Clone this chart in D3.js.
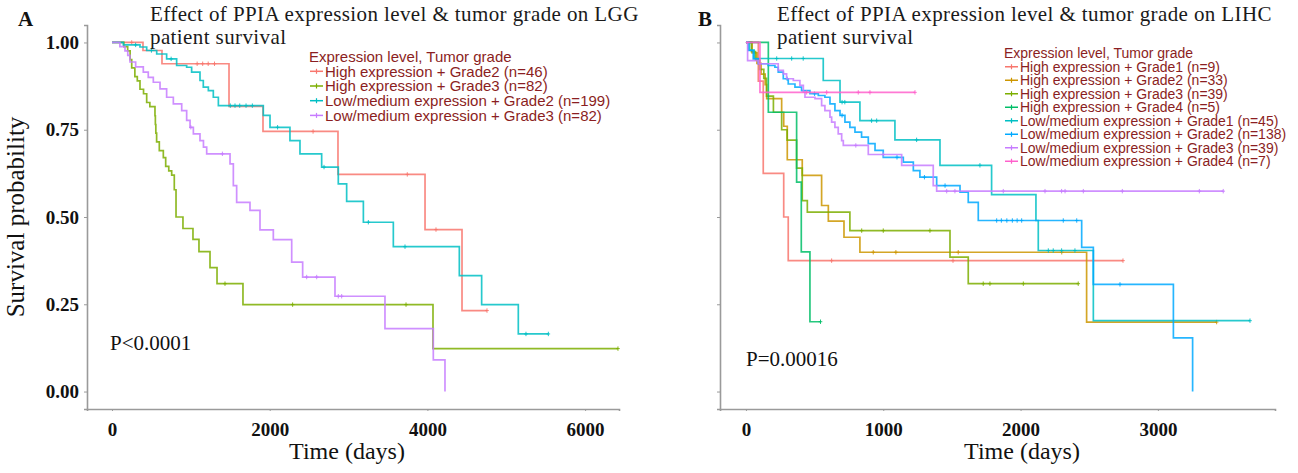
<!DOCTYPE html>
<html><head><meta charset="utf-8">
<script src="https://cdn.jsdelivr.net/npm/d3@7"></script>
<style>body{margin:0;background:#fff}</style>
</head><body><svg id="c" width="1298" height="473"></svg>
<script>
// ---------------- DATA ----------------
const yTicks = [0, 0.25, 0.5, 0.75, 1];
const lggXTicks = [0, 2000, 4000, 6000];
const lihcXTicks = [0, 1000, 2000, 3000];

// Panel A (LGG)
const lggGroups = ["High expression + Grade2 (n=46)", "High expression + Grade3 (n=82)",
  "Low/medium expression + Grade2 (n=199)", "Low/medium expression + Grade3 (n=82)"];
const lggColors = ["#F8766D", "#7CAE00", "#00BFC4", "#C77CFF"];
const lggHighG2 = [[0,1],[393,0.977],[634,0.939],[1484,0.817],[1915,0.745],[2866,0.622],[3970,0.464],[4439,0.232]];
const lggHighG3 = [[0,1],[150,0.988],[199,0.976],[230,0.951],[250,0.927],[290,0.902],[321,0.89],[355,0.866],[400,0.853],[440,0.828],[480,0.816],[545,0.79],[550,0.765],[556,0.74],[566,0.715],[600,0.69],[651,0.67],[681,0.645],[720,0.632],[757,0.62],[790,0.578],[812,0.50],[900,0.467],[1027,0.436],[1103,0.401],[1243,0.355],[1332,0.309],[1661,0.249],[4071,0.123]];
const lggLowG2 = [[0,1],[144,0.993],[355,0.987],[440,0.977],[567,0.967],[693,0.953],[820,0.934],[947,0.929],[1010,0.915],[1116,0.891],[1158,0.872],[1222,0.862],[1285,0.843],[1349,0.819],[1919,0.791],[2004,0.757],[2257,0.719],[2384,0.681],[2659,0.643],[2870,0.595],[2976,0.545],[3188,0.485],[3568,0.415],[4405,0.332],[4688,0.249],[5153,0.165]];
const lggLowG3 = [[0,1],[100,0.988],[165,0.976],[200,0.963],[228,0.944],[300,0.93],[397,0.915],[460,0.9],[524,0.886],[609,0.867],[693,0.843],[778,0.824],[884,0.805],[947,0.777],[990,0.757],[1032,0.738],[1116,0.719],[1160,0.70],[1201,0.681],[1497,0.652],[1539,0.59],[1581,0.542],[1750,0.519],[1877,0.463],[2046,0.435],[2279,0.371],[2418,0.328],[2828,0.273],[3462,0.180],[4075,0.091],[4223,0]];
const lggEnds = [4756, 6417, 5534, 4223];
const lggCensors = [
  [250, 1080, 1150, 1220, 1300, 2550, 3745, 4109, 4756],
  [1433, 2291, 3729, 6417],
  [300, 500, 750, 1500, 1560, 1620, 1700, 1780, 2100, 2689, 3251, 3716, 5250, 5534],
  [1000, 1400, 2469, 2596, 2870, 2913]
];

// Panel B (LIHC)
const lihcGroups = ["High expression + Grade1 (n=9)", "High expression + Grade2 (n=33)",
  "High expression + Grade3 (n=39)", "High expression + Grade4 (n=5)",
  "Low/medium expression + Grade1 (n=45)", "Low/medium expression + Grade2 (n=138)",
  "Low/medium expression + Grade3 (n=39)", "Low/medium expression + Grade4 (n=7)"];
const lihcColors = ["#F8766D", "#CD9600", "#7CAE00", "#00BE67", "#00BFC4", "#00A9FF", "#C77CFF", "#FF61CC"];
const lihcHighG1 = [[0,1],[90,0.889],[126,0.625],[275,0.5],[308,0.375]];
const lihcHighG2 = [[0,1],[45,0.97],[80,0.94],[110,0.909],[140,0.879],[151,0.839],[260,0.80],[275,0.76],[301,0.664],[410,0.619],[551,0.533],[600,0.488],[714,0.442],[830,0.399],[2481,0.199]];
const lihcHighG3 = [[0,1],[40,0.974],[70,0.949],[100,0.923],[130,0.897],[150,0.846],[200,0.80],[260,0.75],[300,0.72],[369,0.64],[410,0.547],[447,0.514],[757,0.461],[1486,0.385],[1619,0.309]];
const lihcHighG4 = [[0,1],[163,0.8],[369,0.6],[403,0.4],[466,0.2]];
const lihcLowG1 = [[0,1],[25,0.978],[60,0.954],[563,0.891],[685,0.829],[830,0.776],[1085,0.721],[1413,0.648],[1789,0.564],[2112,0.49],[2129,0.404],[2530,0.203]];
const lihcLowG2 = [[0,1],[17,0.977],[53,0.953],[90,0.939],[162,0.934],[211,0.929],[235,0.915],[272,0.896],[308,0.881],[357,0.872],[405,0.862],[466,0.853],[527,0.848],[575,0.843],[612,0.824],[648,0.805],[685,0.791],[721,0.772],[757,0.757],[794,0.743],[842,0.729],[891,0.710],[940,0.691],[1000,0.671],[1146,0.657],[1219,0.633],[1267,0.614],[1389,0.590],[1559,0.571],[1619,0.542],[1692,0.490],[2445,0.413],[2530,0.307],[3113,0.154],[3253,0]];
const lihcLowG3 = [[0,1],[12,0.948],[90,0.939],[235,0.920],[272,0.910],[296,0.896],[345,0.891],[393,0.877],[418,0.858],[430,0.843],[503,0.839],[551,0.819],[575,0.805],[612,0.786],[624,0.772],[648,0.757],[672,0.738],[697,0.719],[709,0.705],[891,0.679],[1134,0.648],[1364,0.590],[1389,0.574]];
const lihcLowG4 = [[0,1],[102,0.857]];
const lihcEnds = [2746, 3428, 2420, 543, 3671, 3253, 3476, 1231];
const lihcCensors = [
  [624, 1508, 2746],
  [927, 1092, 1546, 2300, 3428],
  [843, 1000, 1340, 1728, 1777, 2020, 2420],
  [543],
  [224, 333, 417, 700, 720, 915, 952, 1243, 1704, 2202, 2238, 2299, 2396, 3671],
  [300, 500, 700, 1100, 1300, 1450, 1826, 1860, 1900, 1940, 1975, 2008, 2311, 2409, 2724],
  [800, 1000, 1462, 1522, 1874, 2178, 2299, 2324, 2457, 2741, 3302, 3476],
  [442, 588, 818, 903, 1231]
];

// ---------------- DRAW ----------------
const svg = d3.select("#c");
const serif = "'Liberation Serif','Times New Roman',serif";
const sans = "'Liberation Sans',Arial,sans-serif";
const legendColor = "#8B1E22";

function survAt(steps, t) {
  let s = 1;
  for (const p of steps) { if (p[0] <= t) s = p[1]; }
  return s;
}

function drawPanel(o) {
  const g = svg.append("g");
  const x = d3.scaleLinear().domain(o.xDomain).range([o.left, o.right]);
  const y = d3.scaleLinear().domain([-0.05, 1.05]).range([409, 25]);

  // axes
  const ya = g.append("g").attr("transform", `translate(${o.left},0)`)
    .call(d3.axisLeft(y).tickValues(yTicks).tickSize(3).tickPadding(5)
      .tickFormat(o.yLabels ? d3.format(".2f") : () => ""));
  const xa = g.append("g").attr("transform", `translate(0,409)`)
    .call(d3.axisBottom(x).tickValues(o.xTicks).tickSize(2).tickFormat(d3.format("d")));
  [ya, xa].forEach(a => {
    a.select(".domain").attr("stroke", "#9a9a9a").attr("stroke-width", 1.6);
    a.selectAll(".tick line").attr("stroke", "#9a9a9a").attr("stroke-width", 1);
    a.selectAll("text").attr("font-family", serif).attr("font-weight", "bold")
      .attr("font-size", 19).attr("fill", "#111");
  });
  xa.selectAll("text").attr("dy", null).attr("y", 27);

  // curves
  const line = d3.line().x(d => x(d[0])).y(d => y(d[1])).curve(d3.curveStepAfter);
  o.steps.forEach((st, i) => {
    const pts = st.slice();
    const last = pts[pts.length - 1];
    if (o.ends[i] > last[0]) pts.push([o.ends[i], last[1]]);
    g.append("path").attr("d", line(pts)).attr("fill", "none")
      .attr("stroke", o.colors[i]).attr("stroke-width", 1.7).attr("stroke-opacity", 0.85);
    o.censors[i].forEach(t => {
      const cx = x(t), cy = y(survAt(st, t));
      g.append("path").attr("d", `M${cx-1.8},${cy}h3.6M${cx},${cy-2.2}v4.4`)
        .attr("stroke", o.colors[i]).attr("stroke-width", 1).attr("stroke-opacity", 0.9);
    });
  });

  // panel letter and title
  g.append("text").attr("x", o.letterX).attr("y", 26).text(o.letter)
    .attr("font-family", serif).attr("font-weight", "bold").attr("font-size", 21).attr("fill", "#111");
  g.append("text").attr("x", o.titleX).attr("y", 21).text(o.title1)
    .attr("font-family", serif).attr("font-size", 21).attr("letter-spacing", 0.4).attr("fill", "#1a1a1a");
  g.append("text").attr("x", o.titleX).attr("y", 44).text("patient survival")
    .attr("font-family", serif).attr("font-size", 21).attr("letter-spacing", 0.4).attr("fill", "#1a1a1a");

  // legend
  g.append("text").attr("x", o.legX).attr("y", o.legY0).text("Expression level, Tumor grade")
    .attr("font-family", sans).attr("font-size", o.legFont).attr("fill", legendColor);
  o.groups.forEach((name, i) => {
    const by = o.legY0 + o.legStep * (i + 1);
    const ky = by - o.legFont * 0.36;
    g.append("line").attr("x1", o.legX + 1).attr("x2", o.legX + 14).attr("y1", ky).attr("y2", ky)
      .attr("stroke", o.colors[i]).attr("stroke-width", 1.5);
    g.append("line").attr("x1", o.legX + 7.5).attr("x2", o.legX + 7.5).attr("y1", ky - 2.5).attr("y2", ky + 2.5)
      .attr("stroke", o.colors[i]).attr("stroke-width", 1.2);
    g.append("text").attr("x", o.legX + 16).attr("y", by).text(name)
      .attr("font-family", sans).attr("font-size", o.legFont).attr("fill", legendColor);
  });

  // p-value
  g.append("text").attr("x", o.pX).attr("y", o.pY).text(o.pText)
    .attr("font-family", serif).attr("font-size", 21).attr("fill", "#111");

  // x label
  g.append("text").attr("x", o.xLabX).attr("y", 459).attr("text-anchor", "middle").text("Time (days)")
    .attr("font-family", serif).attr("font-size", 24).attr("fill", "#111");
}

drawPanel({
  left: 87, right: 619, xDomain: [-317, 6430], xTicks: lggXTicks, yLabels: true,
  steps: [lggHighG2, lggHighG3, lggLowG2, lggLowG3], ends: lggEnds, censors: lggCensors,
  colors: lggColors, groups: lggGroups,
  letter: "A", letterX: 18, titleX: 150,
  title1: "Effect of PPIA expression level & tumor grade on LGG",
  legX: 309, legY0: 62, legStep: 14.7, legFont: 15,
  pText: "P<0.0001", pX: 110, pY: 350, xLabX: 347
});
drawPanel({
  left: 720, right: 1275, xDomain: [-189, 3853], xTicks: lihcXTicks, yLabels: false,
  steps: [lihcHighG1, lihcHighG2, lihcHighG3, lihcHighG4, lihcLowG1, lihcLowG2, lihcLowG3, lihcLowG4],
  ends: lihcEnds, censors: lihcCensors, colors: lihcColors, groups: lihcGroups,
  letter: "B", letterX: 698, titleX: 777,
  title1: "Effect of PPIA expression level & tumor grade on LIHC",
  legX: 1004, legY0: 58.3, legStep: 13.5, legFont: 14,
  pText: "P=0.00016", pX: 746, pY: 366, xLabX: 1022
});

// y label panel A
svg.append("text").attr("transform", "translate(24,217) rotate(-90)").attr("text-anchor", "middle")
  .text("Survival probability").attr("font-family", serif).attr("font-size", 25).attr("fill", "#111");
</script>
</body></html>
